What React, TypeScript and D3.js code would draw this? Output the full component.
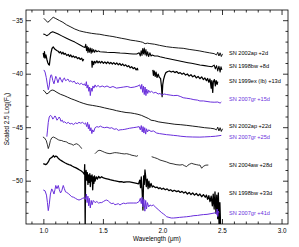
import React from "react";
import * as d3 from "d3";

type Pt = [number, number];

// spectra: [wavelength (micron), scaled 2.5 log F], split where there are gaps
const sn2002ap2d: Pt[][] = [[
  [1.0, -34.78], [1.015, -34.95], [1.032, -35.15], [1.05, -35.0], [1.065, -34.8], [1.079, -34.68], [1.1, -34.8],
  [1.13, -34.98], [1.16, -35.15], [1.19, -35.38], [1.22, -35.55], [1.26, -35.78], [1.3, -35.95], [1.33, -36.03],
  [1.36, -36.1], [1.4, -36.18], [1.44, -36.24], [1.47, -36.27], [1.51, -36.36], [1.55, -36.43], [1.58, -36.48],
  [1.61, -36.55], [1.65, -36.64], [1.69, -36.72], [1.73, -36.82], [1.77, -36.88], [1.81, -36.96], [1.83, -37.02],
  [1.85, -37.15], [1.87, -37.1], [1.89, -37.14], [1.93, -37.2], [1.97, -37.3], [2.03, -37.43], [2.08, -37.5],
  [2.13, -37.55], [2.17, -37.58], [2.22, -37.68], [2.27, -37.76], [2.31, -37.83], [2.35, -37.92], [2.39, -38.0],
  [2.43, -38.08], [2.45, -38.2], [2.46, -37.95], [2.47, -38.3], [2.48, -38.0], [2.49, -38.35], [2.5, -38.1],
]];

const sn1998bw8d: Pt[][] = [[
  [0.995, -36.24], [1.01, -36.3], [1.024, -36.4], [1.04, -36.3], [1.06, -36.1], [1.074, -36.03], [1.09, -36.1],
  [1.12, -36.25], [1.15, -36.42], [1.19, -36.64], [1.23, -36.85], [1.26, -37.0], [1.3, -37.25], [1.33, -37.43],
  [1.345, -37.5], [1.352, -37.2], [1.358, -37.8], [1.364, -37.4], [1.37, -38.0], [1.376, -37.5], [1.383, -37.95],
  [1.39, -37.55], [1.397, -38.05], [1.404, -37.6], [1.41, -37.95], [1.418, -37.7], [1.426, -37.95], [1.435, -37.75],
  [1.445, -37.9], [1.458, -37.82], [1.471, -37.9], [1.5, -37.92], [1.53, -37.95], [1.56, -37.97], [1.59, -37.98],
  [1.61, -37.99], [1.64, -38.02], [1.68, -38.05], [1.72, -38.08], [1.75, -38.11], [1.78, -38.12], [1.8, -38.0],
  [1.81, -38.3], [1.817, -37.8], [1.824, -38.25], [1.83, -37.6], [1.837, -38.1], [1.843, -37.55], [1.85, -38.2],
  [1.857, -37.7], [1.864, -38.3], [1.872, -37.9], [1.88, -38.35], [1.89, -38.0], [1.9, -38.3], [1.91, -38.2],
  [1.93, -38.3], [1.955, -38.3], [1.975, -38.36], [2.02, -38.48], [2.07, -38.6], [2.12, -38.72], [2.17, -38.83],
  [2.21, -38.92], [2.24, -38.98], [2.28, -39.06], [2.31, -39.14], [2.35, -39.2], [2.38, -39.25], [2.41, -39.3],
  [2.43, -39.15], [2.44, -39.5], [2.45, -39.2], [2.46, -39.7], [2.47, -39.25], [2.48, -39.8], [2.487, -39.3],
  [2.495, -39.6],
]];

const sn1999ex13d: Pt[][] = [
  [
    [0.995, -38.0], [1.0, -38.4], [1.005, -37.9], [1.01, -38.5], [1.017, -38.2], [1.025, -38.6], [1.032, -38.9],
    [1.04, -39.1], [1.046, -39.15], [1.052, -38.6], [1.06, -38.0], [1.068, -37.6], [1.079, -37.45], [1.088, -37.6],
    [1.097, -37.7], [1.108, -37.78], [1.12, -37.85], [1.13, -38.0], [1.14, -37.9], [1.15, -38.1], [1.16, -37.95],
    [1.17, -38.15], [1.18, -38.05], [1.192, -38.25], [1.205, -38.15], [1.215, -38.35], [1.225, -38.2], [1.237, -38.4],
    [1.247, -38.3], [1.26, -38.45], [1.27, -38.35], [1.283, -38.55], [1.295, -38.45], [1.305, -38.62], [1.318, -38.5],
    [1.326, -38.75], [1.335, -38.6],
  ],
  [
    [1.402, -38.75], [1.405, -39.35], [1.41, -38.8], [1.418, -39.1], [1.425, -38.8], [1.435, -38.95], [1.445, -38.75],
    [1.455, -38.95], [1.465, -38.8], [1.475, -38.95], [1.487, -38.8], [1.5, -38.98], [1.512, -38.85], [1.525, -39.0],
    [1.537, -38.85], [1.55, -39.02], [1.562, -38.9], [1.575, -39.05], [1.587, -38.92], [1.6, -39.08], [1.612, -38.95],
    [1.625, -39.12], [1.637, -39.0], [1.65, -39.18], [1.662, -39.05], [1.675, -39.22], [1.687, -39.12], [1.7, -39.3],
    [1.712, -39.2], [1.725, -39.4], [1.737, -39.3], [1.75, -39.48], [1.762, -39.38], [1.775, -39.6], [1.785, -39.45],
    [1.79, -39.65],
  ],
  [
    [1.915, -39.6], [1.92, -40.1], [1.927, -39.7], [1.935, -40.2], [1.942, -39.8], [1.95, -40.3], [1.96, -40.0],
    [1.97, -40.3], [1.98, -40.4], [1.988, -41.2], [1.993, -42.1], [1.998, -41.0], [2.005, -40.5], [2.015, -40.1],
    [2.025, -39.85], [2.04, -39.75], [2.055, -39.7], [2.07, -39.8], [2.085, -39.72], [2.1, -39.85], [2.115, -39.75],
    [2.13, -39.92], [2.145, -39.85], [2.16, -40.0], [2.175, -39.9], [2.19, -40.08], [2.205, -39.98], [2.22, -40.18],
    [2.235, -40.05], [2.25, -40.25], [2.265, -40.12], [2.28, -40.35], [2.295, -40.2], [2.31, -40.42], [2.325, -40.25],
    [2.34, -40.5], [2.352, -40.35], [2.365, -40.6], [2.375, -40.4], [2.385, -40.75], [2.395, -40.45], [2.405, -41.3],
    [2.41, -40.6], [2.418, -41.7], [2.423, -40.7], [2.432, -40.5], [2.44, -41.1], [2.447, -40.6], [2.455, -40.95],
    [2.46, -40.7],
  ],
];

const sn2007gr15d: Pt[][] = [[
  [1.0, -39.6], [1.01, -39.8], [1.02, -40.3], [1.03, -41.0], [1.037, -41.45], [1.045, -41.1], [1.052, -40.4],
  [1.06, -40.05], [1.066, -40.1], [1.075, -40.6], [1.085, -40.9], [1.093, -40.5], [1.1, -40.2], [1.108, -40.4],
  [1.118, -40.8], [1.128, -40.45], [1.135, -40.3], [1.145, -40.55], [1.155, -40.75], [1.163, -40.45], [1.172, -40.35],
  [1.182, -40.6], [1.192, -40.55], [1.202, -40.45], [1.215, -40.7], [1.228, -40.6], [1.24, -40.75], [1.255, -40.65],
  [1.27, -40.9], [1.285, -40.8], [1.3, -40.95], [1.315, -40.85], [1.33, -41.0], [1.34, -40.9], [1.35, -41.1],
  [1.357, -40.7], [1.363, -41.3], [1.37, -41.0], [1.378, -41.6], [1.384, -41.2], [1.39, -42.0], [1.397, -41.3],
  [1.405, -41.6], [1.412, -41.1], [1.42, -41.3], [1.43, -41.0], [1.44, -41.2], [1.455, -41.05], [1.47, -41.2],
  [1.49, -41.1], [1.51, -41.2], [1.53, -41.1], [1.555, -41.25], [1.58, -41.15], [1.61, -41.3], [1.64, -41.25],
  [1.67, -41.2], [1.7, -41.15], [1.73, -41.25], [1.76, -41.2], [1.79, -41.1], [1.805, -41.0], [1.815, -41.4],
  [1.822, -40.95], [1.83, -41.7], [1.836, -41.1], [1.843, -41.9], [1.85, -41.2], [1.857, -42.0], [1.864, -41.4],
  [1.872, -41.8], [1.88, -41.5], [1.89, -41.7], [1.905, -41.6], [1.92, -41.75], [1.94, -41.7], [1.96, -41.85],
  [1.975, -41.8], [1.99, -41.95], [2.01, -41.85], [2.031, -41.9], [2.06, -41.95], [2.09, -42.0], [2.12, -41.98],
  [2.15, -42.1], [2.17, -42.2], [2.2, -42.25], [2.23, -42.3], [2.26, -42.38], [2.29, -42.42], [2.31, -42.5],
  [2.34, -42.5], [2.37, -42.55], [2.4, -42.6], [2.43, -42.62], [2.46, -42.6], [2.48, -42.7], [2.49, -42.6],
]];

const sn2002ap22d: Pt[][] = [[
  [0.995, -41.48], [1.01, -41.65], [1.024, -41.85], [1.04, -41.75], [1.055, -41.55], [1.07, -41.48], [1.085, -41.52],
  [1.11, -41.7], [1.14, -41.88], [1.17, -42.0], [1.2, -42.15], [1.23, -42.3], [1.26, -42.42], [1.3, -42.6],
  [1.33, -42.72], [1.37, -42.85], [1.41, -42.92], [1.44, -42.98], [1.47, -43.04], [1.51, -43.15], [1.55, -43.25],
  [1.58, -43.32], [1.61, -43.41], [1.65, -43.5], [1.69, -43.58], [1.73, -43.62], [1.76, -43.68], [1.79, -43.75],
  [1.82, -43.85], [1.85, -44.0], [1.88, -44.15], [1.9, -44.3], [1.93, -44.35], [1.96, -44.45], [2.0, -44.52],
  [2.05, -44.6], [2.1, -44.68], [2.15, -44.72], [2.2, -44.78], [2.25, -44.85], [2.3, -44.92], [2.35, -45.0],
  [2.4, -45.05], [2.43, -45.1], [2.45, -45.2], [2.46, -44.95], [2.47, -45.3], [2.48, -45.0], [2.49, -45.35],
  [2.5, -45.1],
]];

const sn2007gr25d: Pt[][] = [[
  [1.025, -45.84], [1.03, -45.3], [1.037, -44.5], [1.045, -44.0], [1.055, -43.85], [1.066, -43.95], [1.075, -44.2],
  [1.085, -44.05], [1.093, -43.9], [1.1, -44.0], [1.11, -44.3], [1.121, -44.15], [1.128, -44.0], [1.135, -44.1],
  [1.143, -44.4], [1.155, -44.3], [1.163, -44.5], [1.175, -44.45], [1.19, -44.6], [1.205, -44.5], [1.22, -44.65],
  [1.234, -44.6], [1.25, -44.7], [1.265, -44.55], [1.28, -44.62], [1.295, -44.5], [1.31, -44.58], [1.325, -44.5],
  [1.34, -44.65], [1.35, -44.55], [1.36, -44.9], [1.367, -44.5], [1.374, -45.1], [1.38, -44.7], [1.388, -45.3],
  [1.395, -45.0], [1.403, -45.55], [1.41, -45.2], [1.418, -45.4], [1.43, -45.0], [1.445, -44.9], [1.46, -44.95],
  [1.475, -44.85], [1.49, -44.95], [1.51, -45.0], [1.53, -44.95], [1.555, -45.05], [1.57, -45.0], [1.59, -45.15],
  [1.61, -45.1], [1.625, -45.25], [1.64, -45.2], [1.66, -45.18], [1.68, -45.15], [1.7, -45.1], [1.72, -45.05],
  [1.75, -45.0], [1.78, -44.95], [1.8, -44.9], [1.81, -45.2], [1.818, -44.8], [1.826, -45.4], [1.833, -44.9],
  [1.84, -45.5], [1.847, -45.0], [1.855, -45.6], [1.862, -45.1], [1.87, -45.4], [1.88, -45.2], [1.9, -45.35],
  [1.92, -45.3], [1.947, -45.5], [1.97, -45.55], [2.0, -45.6], [2.03, -45.65], [2.06, -45.68], [2.09, -45.72],
  [2.12, -45.75], [2.15, -45.8], [2.2, -45.85], [2.25, -45.87], [2.31, -45.88], [2.35, -45.86], [2.4, -45.83],
  [2.44, -45.8], [2.47, -45.75], [2.49, -45.72],
]];

const sn2004aw28d: Pt[][] = [
  [
    [0.992, -45.87], [1.005, -45.95], [1.02, -46.2], [1.03, -46.6], [1.037, -46.95], [1.045, -46.7], [1.055, -46.2],
    [1.066, -45.95], [1.079, -45.87], [1.095, -45.95], [1.11, -46.05], [1.125, -46.15], [1.135, -46.18], [1.15, -46.2],
    [1.165, -46.28], [1.18, -46.3], [1.192, -46.34], [1.205, -46.45], [1.22, -46.5], [1.235, -46.55], [1.247, -46.64],
    [1.26, -46.55], [1.276, -46.5], [1.29, -46.6], [1.305, -46.75], [1.318, -46.96],
  ],
  [
    [1.429, -47.43], [1.44, -47.3], [1.455, -47.15], [1.471, -47.11], [1.49, -47.2], [1.51, -47.3], [1.53, -47.38],
    [1.555, -47.43], [1.575, -47.38], [1.595, -47.33], [1.612, -47.34], [1.635, -47.38], [1.655, -47.42],
    [1.675, -47.45], [1.695, -47.43], [1.72, -47.5], [1.74, -47.58], [1.76, -47.62], [1.779, -47.67], [1.79, -47.6],
  ],
  [
    [1.905, -47.71], [1.93, -47.8], [1.955, -47.9], [1.975, -48.02], [2.0, -48.1], [2.03, -48.2], [2.059, -48.33],
    [2.085, -48.38], [2.11, -48.45], [2.143, -48.49], [2.165, -48.45], [2.18, -48.55], [2.199, -48.64], [2.21, -48.5],
    [2.225, -48.4], [2.241, -48.33], [2.26, -48.4], [2.28, -48.45], [2.3, -48.5], [2.311, -48.49], [2.325, -48.79],
    [2.34, -48.6], [2.36, -48.5], [2.381, -48.49],
  ],
];

const sn1998bw33d: Pt[][] = [[
  [0.995, -48.35], [1.005, -48.4], [1.015, -48.45], [1.025, -48.38], [1.037, -48.2], [1.05, -47.9], [1.062, -47.8],
  [1.07, -47.75], [1.08, -47.6], [1.09, -47.75], [1.1, -47.65], [1.11, -47.7], [1.12, -47.85], [1.135, -48.0],
  [1.15, -48.1], [1.165, -48.2], [1.18, -48.3], [1.195, -48.38], [1.21, -48.45], [1.225, -48.5], [1.24, -48.6],
  [1.255, -48.68], [1.27, -48.75], [1.285, -48.85], [1.3, -48.95], [1.315, -49.05], [1.33, -49.2], [1.34, -49.35],
  [1.343, -48.45], [1.347, -54.5], [1.35, -49.6], [1.355, -49.0], [1.36, -49.9], [1.365, -49.2], [1.37, -50.3],
  [1.375, -49.4], [1.38, -50.1], [1.386, -49.3], [1.39, -50.5], [1.395, -49.5], [1.4, -50.0], [1.405, -49.4],
  [1.41, -50.8], [1.415, -49.6], [1.42, -50.2], [1.425, -49.5], [1.43, -50.0], [1.44, -49.6], [1.45, -49.8],
  [1.46, -49.55], [1.471, -49.7], [1.485, -49.58], [1.5, -49.7], [1.52, -49.75], [1.54, -49.8], [1.555, -49.85],
  [1.57, -49.89], [1.59, -49.95], [1.61, -50.0], [1.63, -50.05], [1.654, -50.05], [1.67, -50.1], [1.695, -50.07],
  [1.72, -50.07], [1.74, -50.1], [1.76, -50.15], [1.78, -50.2], [1.795, -50.25], [1.805, -49.9], [1.812, -50.6],
  [1.818, -49.6], [1.825, -50.9], [1.832, -52.7], [1.838, -49.5], [1.843, -50.3], [1.849, -48.95], [1.855, -49.6],
  [1.86, -50.5], [1.868, -49.8], [1.875, -50.7], [1.882, -50.0], [1.89, -50.6], [1.9, -50.2], [1.91, -50.55],
  [1.919, -50.45], [1.935, -50.6], [1.95, -50.55], [1.965, -50.7], [1.975, -50.6], [1.99, -50.75], [2.003, -50.66],
  [2.02, -50.8], [2.035, -50.72], [2.05, -50.88], [2.065, -50.8], [2.08, -50.95], [2.095, -50.85], [2.115, -50.98],
  [2.13, -50.9], [2.145, -51.05], [2.16, -50.95], [2.175, -51.1], [2.19, -51.0], [2.205, -51.2], [2.22, -51.05],
  [2.235, -51.25], [2.25, -51.1], [2.265, -51.3], [2.28, -51.15], [2.295, -51.35], [2.31, -51.2], [2.325, -51.45],
  [2.34, -51.25], [2.355, -51.5], [2.365, -51.3], [2.375, -51.7], [2.385, -51.35], [2.395, -51.9], [2.405, -51.4],
  [2.415, -52.3], [2.422, -51.2], [2.43, -52.6], [2.437, -51.0], [2.445, -53.0], [2.452, -51.3], [2.46, -53.5],
  [2.465, -51.1], [2.472, -54.5], [2.478, -52.0], [2.485, -54.5],
]];

const sn2007gr41d: Pt[][] = [[
  [0.995, -50.82], [1.01, -50.9], [1.022, -51.3], [1.03, -52.0], [1.037, -52.75], [1.045, -52.2], [1.055, -51.2],
  [1.066, -50.72], [1.075, -50.9], [1.085, -51.2], [1.093, -50.8], [1.1, -50.4], [1.11, -50.7], [1.121, -50.4],
  [1.13, -50.8], [1.14, -51.1], [1.15, -50.9], [1.163, -50.4], [1.172, -50.7], [1.182, -51.0], [1.192, -51.05],
  [1.205, -51.15], [1.22, -51.3], [1.234, -51.45], [1.25, -51.5], [1.265, -51.6], [1.28, -51.7], [1.295, -51.76],
  [1.31, -51.7], [1.325, -51.6], [1.34, -51.55], [1.35, -51.7], [1.357, -51.2], [1.363, -52.0], [1.37, -51.4],
  [1.376, -52.3], [1.382, -51.6], [1.39, -52.5], [1.398, -51.8], [1.405, -52.2], [1.415, -51.8], [1.43, -52.0],
  [1.445, -51.9], [1.46, -52.05], [1.471, -52.0], [1.486, -52.0], [1.5, -51.9], [1.515, -51.8], [1.528, -51.76],
  [1.541, -51.85], [1.555, -52.0], [1.57, -52.1], [1.583, -52.05], [1.597, -52.2], [1.612, -52.15], [1.625, -52.1],
  [1.639, -52.22], [1.654, -52.12], [1.67, -52.05], [1.685, -52.1], [1.7, -52.05], [1.723, -52.04], [1.75, -52.04],
  [1.779, -52.04], [1.8, -51.9], [1.81, -51.6], [1.818, -52.1], [1.825, -51.5], [1.832, -52.4], [1.84, -51.7],
  [1.848, -52.8], [1.855, -51.8], [1.862, -52.6], [1.87, -52.0], [1.88, -52.4], [1.891, -52.22], [1.905, -52.3],
  [1.919, -52.22], [1.94, -52.45], [1.96, -52.65], [1.975, -52.8], [1.99, -52.95], [2.003, -53.05], [2.02, -53.2],
  [2.031, -53.32], [2.05, -53.38], [2.07, -53.44], [2.087, -53.44], [2.11, -53.42], [2.14, -53.38], [2.171, -53.35],
  [2.199, -53.32], [2.23, -53.28], [2.26, -53.22], [2.29, -53.2], [2.311, -53.16], [2.34, -53.12], [2.37, -53.1],
  [2.395, -53.05], [2.42, -53.0], [2.44, -52.95], [2.45, -53.1], [2.455, -52.6], [2.46, -53.3], [2.465, -52.8],
  [2.47, -52.95],
]];

const spectra = [sn2002ap2d, sn1998bw8d, sn1999ex13d, sn2007gr15d, sn2002ap22d, sn2007gr25d, sn2004aw28d, sn1998bw33d, sn2007gr41d];
const labels = [
  "SN 2002ap +2d", "SN 1998bw +8d", "SN 1999ex (Ib) +13d", "SN 2007gr +15d", "SN 2002ap +22d",
  "SN 2007gr +25d", "SN 2004aw +28d", "SN 1998bw +33d", "SN 2007gr +41d",
];
const labelY = [-38.0, -39.2, -40.65, -42.3, -44.85, -45.85, -48.45, -51.1, -52.95];
const isPurple = [false, false, false, true, false, true, false, false, true];
const xMajor = [1.0, 1.5, 2.0, 2.5, 3.0];
const yMajor = [-50, -45, -40, -35];

const W = 299, H = 247;
const m = { left: 26, top: 10, right: 11, bottom: 23 };
const PURPLE = "#6a2fdc";
// noisy spectra look heavier in the original
const strokeW = [0.9, 1.05, 1.25, 1.0, 0.9, 1.0, 0.8, 1.3, 1.0];

export default function App() {
  const x = d3.scaleLinear().domain([0.85, 3.05]).range([m.left, W - m.right]);
  const y = d3.scaleLinear().domain([-54, -34]).range([H - m.bottom, m.top]);
  const line = d3.line<Pt>().x((d) => x(d[0])).y((d) => y(d[1]));
  const x0 = m.left, x1 = W - m.right, y0 = m.top, y1 = H - m.bottom;

  const xMinor = d3.range(9, 31).map((i) => i / 10).filter((v) => !xMajor.some((t) => Math.abs(t - v) < 1e-6));
  const yMinor = d3.range(-53, -34).filter((v) => v % 5 !== 0);
  const font = "'Liberation Sans', Arial, sans-serif";

  return (
    <svg width={W} height={H} style={{ position: "absolute", left: 0, top: 0, background: "#fff" }} fontFamily={font}>
      <defs>
        <clipPath id="plot">
          <rect x={x0} y={y0} width={x1 - x0} height={y1 - y0} />
        </clipPath>
      </defs>
      <g clipPath="url(#plot)" fill="none" strokeLinejoin="round">
        {spectra.map((segs, i) =>
          segs.map((s, j) => (
            <path key={i + "-" + j} d={line(s) || ""} stroke={isPurple[i] ? PURPLE : "#000"} strokeWidth={strokeW[i]} />
          ))
        )}
      </g>
      {labels.map((t, i) => (
        <text key={t} x={x(2.555)} y={y(labelY[i])} dy="0.35em" fontSize={5.6} fill={isPurple[i] ? PURPLE : "#000"}>
          {t}
        </text>
      ))}
      <g stroke="#000" strokeWidth={0.8}>
        <rect x={x0} y={y0} width={x1 - x0} height={y1 - y0} fill="none" />
        {xMajor.map((v) => (
          <g key={"xm" + v}>
            <line x1={x(v)} x2={x(v)} y1={y1} y2={y1 - 5} />
            <line x1={x(v)} x2={x(v)} y1={y0} y2={y0 + 5} />
          </g>
        ))}
        {xMinor.map((v) => (
          <g key={"xn" + v}>
            <line x1={x(v)} x2={x(v)} y1={y1} y2={y1 - 2.5} />
            <line x1={x(v)} x2={x(v)} y1={y0} y2={y0 + 2.5} />
          </g>
        ))}
        {yMajor.map((v) => (
          <g key={"ym" + v}>
            <line x1={x0} x2={x0 + 5} y1={y(v)} y2={y(v)} />
            <line x1={x1} x2={x1 - 5} y1={y(v)} y2={y(v)} />
          </g>
        ))}
        {yMinor.map((v) => (
          <g key={"yn" + v}>
            <line x1={x0} x2={x0 + 2.5} y1={y(v)} y2={y(v)} />
            <line x1={x1} x2={x1 - 2.5} y1={y(v)} y2={y(v)} />
          </g>
        ))}
      </g>
      {xMajor.map((v) => (
        <text key={"xl" + v} x={x(v)} y={y1 + 9} textAnchor="middle" fontSize={6.3}>
          {d3.format(".1f")(v)}
        </text>
      ))}
      {yMajor.map((v) => (
        <text key={"yl" + v} x={x0 - 3} y={y(v)} dy="0.35em" textAnchor="end" fontSize={6.3}>
          {"\u2212" + Math.abs(v)}
        </text>
      ))}
      <text x={(x0 + x1) / 2} y={H - 6} textAnchor="middle" fontSize={6.3}>
        Wavelength (μm)
      </text>
      <text transform={`translate(9,${(y0 + y1) / 2 + 2}) rotate(-90)`} textAnchor="middle" fontSize={6.3}>
        Scaled 2.5 Log(F<tspan fontSize={4.5} dy="1.5">λ</tspan><tspan dy="-1.5">)</tspan>
      </text>
    </svg>
  );
}
